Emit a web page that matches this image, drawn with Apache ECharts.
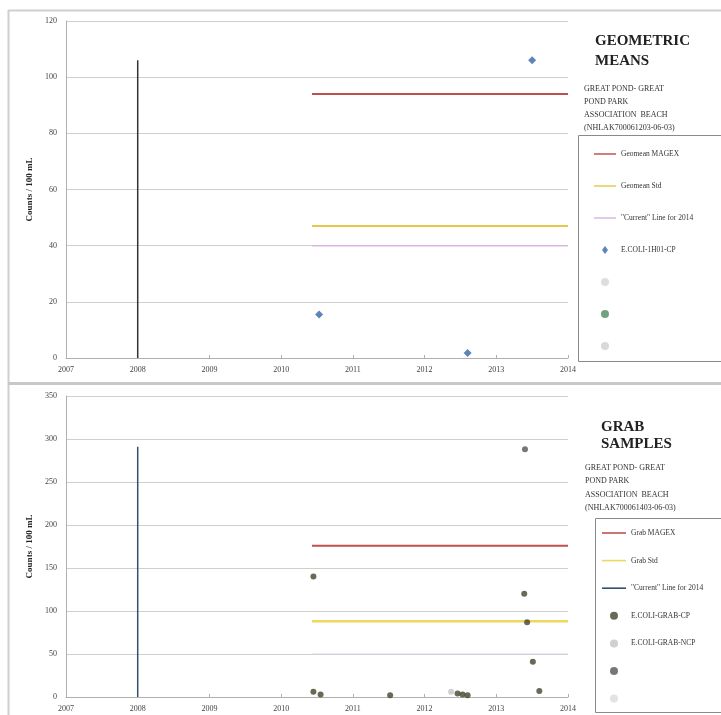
<!DOCTYPE html>
<html>
<head>
<meta charset="utf-8">
<script src="https://cdn.jsdelivr.net/npm/echarts@6/dist/echarts.min.js"></script>
<style>
html,body{margin:0;padding:0;background:#fff;}
#c{width:721px;height:715px;}
</style>
</head>
<body>
<div id="c"></div>
<script>
// ---- data ----
const xTicks = [2007, 2008, 2009, 2010, 2011, 2012, 2013, 2014];
const geoYTicks = [0, 20, 40, 60, 80, 100, 120];
const grabYTicks = [0, 50, 100, 150, 200, 250, 300, 350];

const geoMagex = [[2010.43, 94], [2014, 94]];
const geoStd = [[2010.43, 47], [2014, 47]];
const geoCurrent = [[2010.43, 40], [2014, 40]];
const geoVertical = [[2008, 0], [2008, 106]];
const geoPoints = [[2010.53, 15.5], [2012.6, 1.8], [2013.5, 106]];

const grabMagex = [[2010.43, 176], [2014, 176]];
const grabStd = [[2010.43, 88], [2014, 88]];
const grabFaint = [[2010.43, 50], [2014, 50]];
const grabVertical = [[2008, 0], [2008, 291]];
const grabCP = [[2010.45, 140], [2010.45, 6], [2010.55, 3], [2011.52, 2], [2012.46, 4], [2012.53, 3], [2012.6, 2], [2013.39, 120], [2013.43, 87], [2013.51, 41], [2013.6, 7]];
const grabNCP = [[2012.37, 6]];
const grabOther = [[2013.4, 288]];

const serif = 'Liberation Serif';
const chart = echarts.init(document.getElementById('c'), null, {renderer: 'canvas'});
const lineIcon = 'path://M0,0 L24,0 L24,1.6 L0,1.6 Z';
const diamondIcon = 'path://M4,0 L7,4 L4,8 L1,4 Z';

function xAxis(gi) {
  return {
    type: 'value', gridIndex: gi, min: xTicks[0], max: xTicks[xTicks.length - 1], interval: 1,
    axisLine: {lineStyle: {color: '#b0b0b0'}},
    axisTick: {show: true, inside: true, length: 3, lineStyle: {color: '#b0b0b0'}},
    axisLabel: {fontFamily: serif, fontSize: 8, color: '#444', margin: 8, formatter: v => String(v)},
    splitLine: {show: false}
  };
}
function yAxis(gi, ticks) {
  return {
    type: 'value', gridIndex: gi, min: ticks[0], max: ticks[ticks.length - 1], interval: ticks[1] - ticks[0],
    name: 'Counts / 100 mL', nameLocation: 'middle', nameGap: 25,
    nameTextStyle: {fontFamily: serif, fontSize: 9, fontWeight: 'bold', color: '#222'},
    axisLine: {show: true, lineStyle: {color: '#b0b0b0'}},
    axisTick: {show: false},
    axisLabel: {fontFamily: serif, fontSize: 8, color: '#444', margin: 9},
    splitLine: {lineStyle: {color: '#cfcfcf', width: 1}}
  };
}
function lineS(name, data, color, gi, width) {
  return {
    name: name, type: 'line', xAxisIndex: gi, yAxisIndex: gi, data: data,
    symbol: 'none', lineStyle: {color: color, width: width}, itemStyle: {color: color},
    silent: true, animation: false, z: 3
  };
}
function scat(name, data, color, gi, symbol, size) {
  return {
    name: name, type: 'scatter', xAxisIndex: gi, yAxisIndex: gi, data: data,
    symbol: symbol, symbolSize: size, itemStyle: {color: color}, animation: false, z: 4
  };
}
function li(name) { return {name: name, icon: lineIcon}; }

const option = {
  backgroundColor: '#fff',
  animation: false,
  grid: [
    {left: 66, right: 153, top: 21, bottom: 357},
    {left: 66, right: 153, top: 396, bottom: 18}
  ],
  xAxis: [xAxis(0), xAxis(1)],
  yAxis: [yAxis(0, geoYTicks), yAxis(1, grabYTicks)],
  legend: [
    {
      orient: 'vertical', left: 589, top: 145, itemWidth: 22, itemHeight: 8, itemGap: 24,
      symbolKeepAspect: true,
      textStyle: {fontFamily: serif, fontSize: 7.5, color: '#333'},
      data: [li('Geomean MAGEX'), li('Geomean Std'), li('"Current" Line for 2014'), {name: 'E.COLI-1H01-CP', icon: diamondIcon}, ' ', '  ', '   '],
      selectedMode: false
    },
    {
      orient: 'vertical', left: 597, top: 524, itemWidth: 24, itemHeight: 8, itemGap: 19.6,
      symbolKeepAspect: true,
      textStyle: {fontFamily: serif, fontSize: 7.5, color: '#333'},
      data: [li('Grab MAGEX'), li('Grab Std'), li('"Current" Line for 2014 '), 'E.COLI-GRAB-CP', 'E.COLI-GRAB-NCP', '    ', '     '],
      selectedMode: false
    }
  ],
  series: [
    lineS('Geomean MAGEX', geoMagex, '#c0504d', 0, 2),
    lineS('Geomean Std', geoStd, '#e8c84a', 0, 2),
    lineS('"Current" Line for 2014', geoCurrent, '#d8b8e0', 0, 1.5),
    lineS('vline-geo', geoVertical, '#333333', 0, 1.5),
    scat('E.COLI-1H01-CP', geoPoints, '#3466a8', 0, 'diamond', 8),
    scat(' ', [], '#d4d4d4', 0, 'circle', 5),
    scat('  ', [], '#4f8a5e', 0, 'circle', 5),
    scat('   ', [], '#cfcfcf', 0, 'circle', 5),

    lineS('Grab MAGEX', grabMagex, '#c0504d', 1, 2),
    lineS('Grab Std', grabStd, '#f0d860', 1, 2.5),
    lineS('faint-grab', grabFaint, '#ddd0ea', 1, 1),
    lineS('"Current" Line for 2014 ', grabVertical, '#34506f', 1, 1.5),
    scat('E.COLI-GRAB-CP', grabCP, '#45432c', 1, 'circle', 6),
    scat('E.COLI-GRAB-NCP', grabNCP, '#c4c4c4', 1, 'circle', 6),
    scat('    ', grabOther, '#555555', 1, 'circle', 6),
    scat('     ', [], '#dcdcdc', 1, 'circle', 5)
  ],
  graphic: [
    {type: 'line', shape: {x1: 8, y1: 10.5, x2: 721, y2: 10.5}, style: {stroke: '#cfcfcf', lineWidth: 2}, silent: true},
    {type: 'line', shape: {x1: 8.5, y1: 10, x2: 8.5, y2: 715}, style: {stroke: '#cfcfcf', lineWidth: 2}, silent: true},
    {type: 'line', shape: {x1: 8, y1: 383.5, x2: 721, y2: 383.5}, style: {stroke: '#c8c8c8', lineWidth: 3}, silent: true},
    {type: 'rect', shape: {x: 578.5, y: 135.5, width: 150, height: 226}, style: {fill: 'none', stroke: '#8a8a8a', lineWidth: 1}, silent: true, z: 1},
    {type: 'rect', shape: {x: 595.5, y: 518.5, width: 140, height: 194}, style: {fill: 'none', stroke: '#8a8a8a', lineWidth: 1}, silent: true, z: 1},
    {type: 'text', left: 595, top: 31, style: {text: 'GEOMETRIC\nMEANS', fontFamily: serif, fontSize: 15, fontWeight: 'bold', fill: '#222', lineHeight: 20}},
    {type: 'text', left: 584, top: 82, style: {text: 'GREAT POND- GREAT\nPOND PARK\nASSOCIATION  BEACH\n(NHLAK700061203-06-03)', fontFamily: serif, fontSize: 8, fill: '#333', lineHeight: 13}},
    {type: 'text', left: 601, top: 419, style: {text: 'GRAB\nSAMPLES', fontFamily: serif, fontSize: 15, fontWeight: 'bold', fill: '#222', lineHeight: 17}},
    {type: 'text', left: 585, top: 461, style: {text: 'GREAT POND- GREAT\nPOND PARK\nASSOCIATION  BEACH\n(NHLAK700061403-06-03)', fontFamily: serif, fontSize: 8, fill: '#333', lineHeight: 13.5}}
  ]
};
chart.setOption(option);
</script>
</body>
</html>
